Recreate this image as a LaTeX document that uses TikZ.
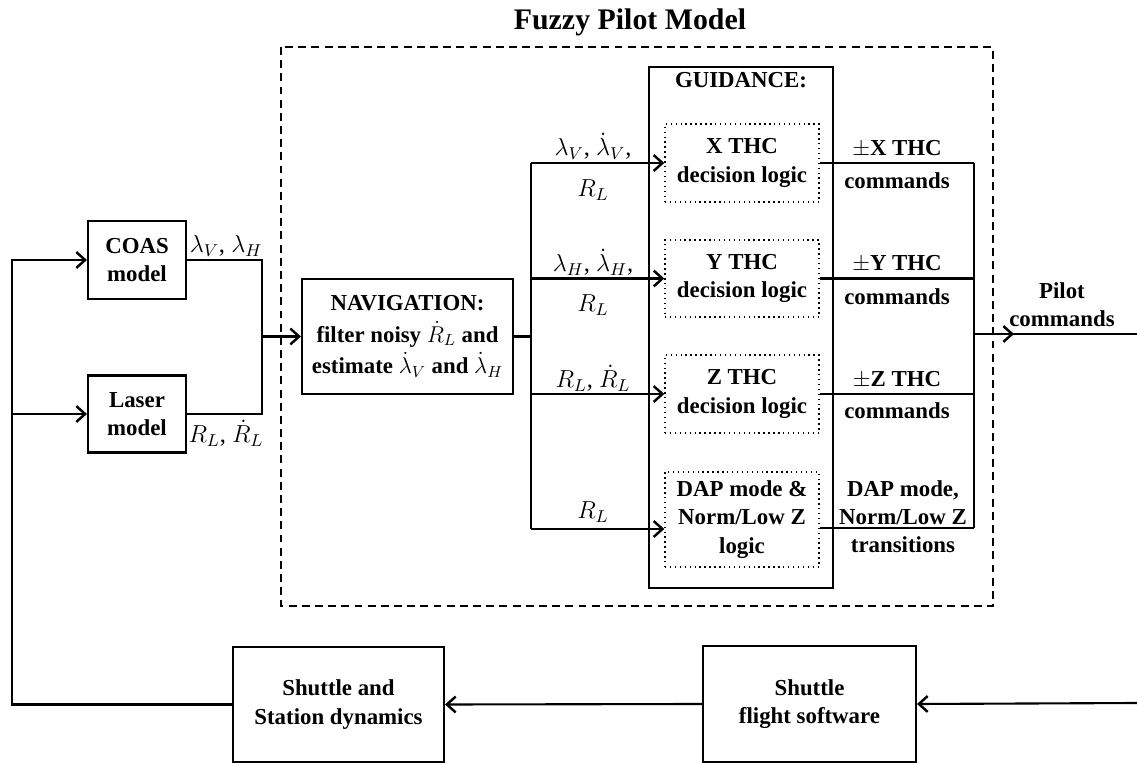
\RequirePackage{fix-cm}
\documentclass[tikz,border=0pt]{standalone}
\usepackage{fontspec}
\setmainfont{Liberation Serif}
\usetikzlibrary{arrows.meta}
\tikzset{
  box/.style={draw,line width=1.2pt,inner sep=0pt,align=center},
  dotbox/.style={draw,dotted,line width=0.8pt,inner sep=0pt,align=center,minimum width=3.08cm},
  lbl/.style={inner sep=0pt,align=center},
  mlbl/.style={lbl,font=\fontsize{14}{16}\selectfont},
  arr/.style={-{Straight Barb[length=5pt,width=9pt,line width=1.4pt]}},
}
\begin{document}
\begin{tikzpicture}[x=0.02cm,y=-0.02cm,line width=1.2pt,
    font=\bfseries\fontsize{13}{16}\selectfont]
        \useasboundingbox (0,0) rectangle (1137,763);
        \node[lbl,font=\bfseries\fontsize{17}{20}\selectfont] (title) at (630,22) {Fuzzy Pilot Model};
        \draw[dash pattern=on 4.5pt off 3pt,line width=0.8pt] (281,47) rectangle (993,606);
        \node[box,minimum width=1.96cm,minimum height=1.56cm] (coas) at (137,260) {COAS\\model};
        \node[box,minimum width=1.96cm,minimum height=1.54cm] (laser) at (137,414) {Laser\\model};
        \node[box,minimum width=4.22cm,minimum height=2.3cm] (nav) at (407.5,336.5)
          {NAVIGATION:\\[2pt]filter noisy $\dot{R}_L$ and\\[2pt]estimate $\dot{\lambda}_V$ and $\dot{\lambda}_H$};
        \node[box,minimum width=3.68cm,minimum height=10.42cm] (guid) at (741,327.5) {};
        \node[lbl] (guidt) at (741,80) {GUIDANCE:};
        \node[dotbox,minimum height=1.56cm] (xthc) at (742,163) {X THC\\decision logic};
        \node[dotbox,minimum height=1.54cm] (ythc) at (742,278.5) {Y THC\\decision logic};
        \node[dotbox,minimum height=1.56cm] (zthc) at (742,394) {Z THC\\decision logic};
        \node[dotbox,minimum height=1.9cm] (dap) at (742,519.5) {DAP mode \&\\Norm/Low Z\\logic};
        \node[box,minimum width=4.22cm,minimum height=2.3cm] (dyn) at (338.5,704.5) {Shuttle and\\Station dynamics};
        \node[box,minimum width=4.26cm,minimum height=2.32cm] (fsw) at (809.5,704) {Shuttle\\flight software};

        \coordinate (fbl) at (12,0);
        \coordinate (mrg) at (262,0);
        \coordinate (bus) at (531,0);
        \coordinate (col) at (974,334);
        \coordinate (pilot) at (1137,334);
        \coordinate (cmdin) at (1137,703);
        \coordinate (dapin) at ([yshift=-0.19cm]dap.west);
        \coordinate (dapout) at ([yshift=-0.17cm]dap.east);

        \draw[arr] (dyn.west) -| (fbl |- coas.west) -- (coas.west);
        \draw[arr] (fbl |- laser.west) -- (laser.west);
        \draw (coas.east) -| (mrg |- nav.west) |- (laser.east);
        \draw[arr] (mrg |- nav.west) -- (nav.west);
        \draw (nav.east) -- (bus |- nav.east);
        \draw (bus |- xthc.west) -- (bus |- dapin);
        \draw[arr] (bus |- xthc.west) -- (xthc.west);
        \draw[arr] (bus |- ythc.west) -- (ythc.west);
        \draw[arr] (bus |- zthc.west) -- (zthc.west);
        \draw[arr] (bus |- dapin) -- (dapin);
        \draw (xthc.east) -- (col |- xthc.east);
        \draw (ythc.east) -- (col |- ythc.east);
        \draw (zthc.east) -- (col |- zthc.east);
        \draw (dapout) -- (col |- dapout);
        \draw (col |- xthc.east) -- (col |- dapout);
        \draw (col) -- (pilot);
        \draw[arr] (col) -- ([xshift=0.8cm]col);
        \draw[arr] (cmdin) -- (fsw.east);
        \draw[arr] (fsw.west) -- (dyn.east);

        \node[mlbl] (lcoas) at (226,246) {$\lambda_V$, $\lambda_H$};
        \node[mlbl] (llaser) at (226,433) {$R_L$, $\dot{R}_L$};
        \node[mlbl] (lx1) at (593,146) {$\lambda_V$, $\dot{\lambda}_V$,};
        \node[mlbl] (lx2) at (593,190) {$R_L$};
        \node[mlbl] (ly1) at (593,262) {$\lambda_H$, $\dot{\lambda}_H$,};
        \node[mlbl] (ly2) at (593,305) {$R_L$};
        \node[mlbl] (lz) at (593,378) {$R_L$, $\dot{R}_L$};
        \node[mlbl] (ld) at (593,512) {$R_L$};
        \node[lbl] (ox1) at (897,149) {$\pm$X THC};
        \node[lbl] (ox2) at (897,181) {commands};
        \node[lbl] (oy1) at (897,264) {$\pm$Y THC};
        \node[lbl] (oy2) at (897,297) {commands};
        \node[lbl] (oz1) at (897,380) {$\pm$Z THC};
        \node[lbl] (oz2) at (897,411) {commands};
        \node[lbl] (od) at (903,517) {DAP mode,\\Norm/Low Z\\transitions};
        \node[lbl] (lpilot) at (1062,305) {Pilot\\commands};
      \end{tikzpicture}
\end{document}
